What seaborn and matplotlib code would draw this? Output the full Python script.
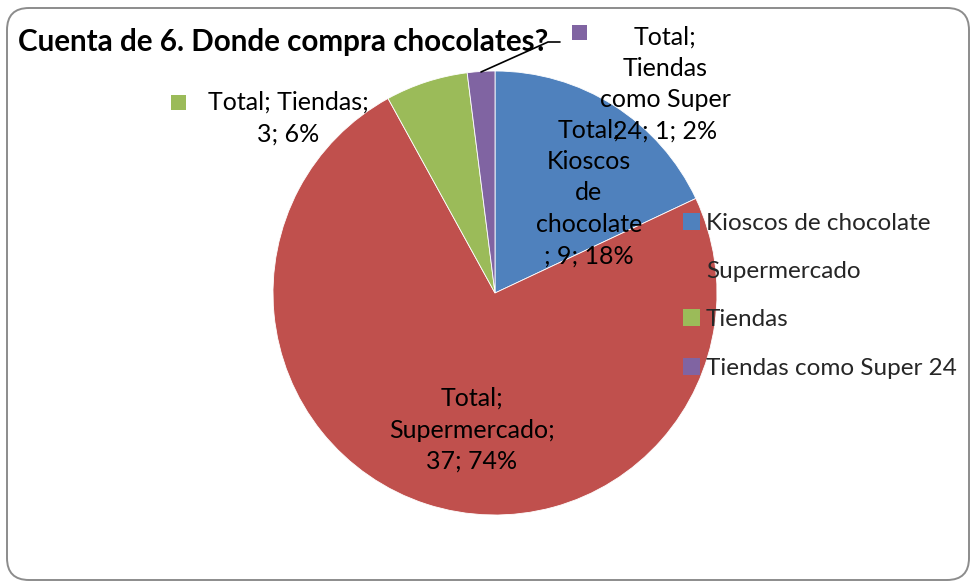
import matplotlib
matplotlib.use("Agg")
import matplotlib.pyplot as plt
from matplotlib.patches import FancyBboxPatch, Patch
import seaborn as sns

# Survey counts: where chocolates are bought
categories = ["Kioscos de chocolate", "Supermercado", "Tiendas", "Tiendas como Super 24"]
counts = [9, 37, 3, 1]
percents = [18, 74, 6, 2]
colors = ["#4F81BD", "#C0504D", "#9BBB59", "#8064A2"]
title = "Cuenta de 6. Donde compra chocolates?"

sns.set_theme(style="white")
plt.rcParams["font.family"] = ["Lato", "DejaVu Sans"]

W, H = 973, 584
fig = plt.figure(figsize=(W / 100, H / 100), dpi=100)

# rounded chart frame
frame = FancyBboxPatch((0.07, 0.04), 9.62, 5.72,
                       boxstyle="round,pad=0,rounding_size=0.22",
                       transform=fig.dpi_scale_trans, facecolor="white",
                       edgecolor="#8c8c8c", linewidth=1.4, zorder=-5)
fig.patches.append(frame)

# pie axes: center (495, 293) px, radius 222 px
cx, cy, r = 495, 293, 222
ax = fig.add_axes([(cx - r) / W, (H - cy - r) / H, 2 * r / W, 2 * r / H])
ax.patch.set_visible(False)
ax.pie(counts, colors=colors, startangle=90, counterclock=False, radius=1,
       wedgeprops=dict(edgecolor="white", linewidth=0.6))
ax.set_xlim(-1, 1)
ax.set_ylim(-1, 1)
ax.set_aspect("equal")
ax.axis("off")


def d(px, py):
    """pixel position -> pie data coordinates"""
    return (px - cx) / r, (cy - py) / r


fs = 18
kw = dict(ha="center", va="center", fontsize=fs, color="black",
          linespacing=1.45, clip_on=False)

# data labels
labels = [
    f"Total;\nKioscos\nde\nchocolate\n; {counts[0]}; {percents[0]}%",
    f"Total;\nSupermercado;\n{counts[1]}; {percents[1]}%",
    f"Total; Tiendas;\n{counts[2]}; {percents[2]}%",
    f"Total;\nTiendas\ncomo Super\n24; {counts[3]}; {percents[3]}%",
]
ax.text(*d(589, 193), labels[0], **kw)
ax.text(*d(472, 430), labels[1], **kw)
ax.text(*d(288, 118), labels[2], **kw)
ax.text(*d(665, 84), labels[3], **kw)

# small colour keys next to outside labels
sq = 15 / r
for (px, py), col in [((178, 102), colors[2]), ((579, 32), colors[3])]:
    x0, y0 = d(px, py)
    ax.add_patch(plt.Rectangle((x0 - sq / 2, y0 - sq / 2), sq, sq,
                               facecolor=col, edgecolor="none", clip_on=False))

# leader line for the smallest slice
lx, ly = zip(d(481, 72), d(548, 42), d(560, 42))
ax.plot(lx, ly, color="black", linewidth=1.2, clip_on=False)

# title
fig.text(18 / W, 1 - 42 / H, title, ha="left", va="center",
         fontsize=21.3, fontweight="bold", color="black")

# legend
lfs = 17.5
handles = [Patch(facecolor=c, edgecolor="none") for c in colors]
fig.legend(handles, categories, loc="upper left",
           bbox_to_anchor=(683 / W, 1 - 213 / H), frameon=False,
           fontsize=lfs, handlelength=0.7, handleheight=0.7,
           handletextpad=0.25, labelspacing=1.12, borderpad=0,
           borderaxespad=0)

fig.savefig("out.png", dpi=100)
